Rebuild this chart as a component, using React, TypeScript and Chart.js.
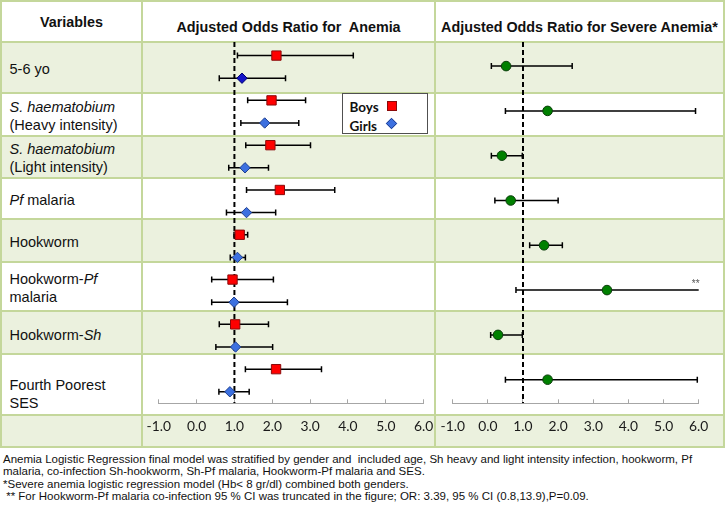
import React, { useEffect, useRef } from 'react';
import { Chart, registerables } from 'chart.js';

Chart.register(...registerables);

// ---------------- data ----------------
const variables = [
  '5-6 yo',
  '_S. haematobium_|(Heavy intensity)',
  '_S. haematobium_|(Light intensity)',
  '_Pf_ malaria',
  'Hookworm',
  'Hookworm-_Pf_|malaria',
  'Hookworm-_Sh_',
  'Fourth Poorest|SES',
];
const boysOR = [2.11, 1.98, 1.95, 2.2, 1.14, 0.95, 1.02, 2.1];
const boysLow = [1.08, 1.35, 1.3, 1.32, 0.99, 0.4, 0.6, 1.29];
const boysHigh = [4.14, 2.88, 3.01, 3.65, 1.35, 2.03, 1.9, 3.3];
const girlsOR = [1.2, 1.8, 1.28, 1.32, 1.08, 0.99, 1.03, 0.88];
const girlsLow = [0.6, 1.17, 0.85, 0.79, 0.89, 0.4, 0.51, 0.59];
const girlsHigh = [2.35, 2.7, 1.9, 2.09, 1.29, 2.4, 2.01, 1.39];
const severeOR = [0.52, 1.7, 0.4, 0.65, 1.6, 3.39, 0.29, 1.7];
const severeLow = [0.1, 0.5, 0.1, 0.2, 1.19, 0.8, 0.08, 0.5];
const severeHigh = [2.4, 5.91, 0.98, 2.0, 2.12, 13.9, 0.98, 5.96];
const xTicks = [-1, 0, 1, 2, 3, 4, 5, 6];
const referenceOR = 1;
const headers = ['Variables', 'Adjusted Odds Ratio for  Anemia', 'Adjusted Odds Ratio for Severe Anemia*'];
const legendLabels = ['Boys', 'Girls'];
const footnotes = [
  'Anemia Logistic Regression final model was stratified by gender and  included age, Sh heavy and light intensity infection, hookworm, Pf',
  'malaria, co-infection Sh-hookworm, Sh-Pf malaria, Hookworm-Pf malaria and SES.',
  '*Severe anemia logistic regression model (Hb< 8 gr/dl) combined both genders.',
  ' ** For Hookworm-Pf malaria co-infection 95 % CI was truncated in the figure; OR: 3.39, 95 % CI (0.8,13.9),P=0.09.',
];

// ---------------- layout / style ----------------
const W = 725;
const H = 507;
const rowEdges = [1, 42, 93, 136, 178, 219, 262, 311, 354, 415, 447];
const colEdges = [1, 142, 435, 724];
const labelShift = [0.8, 0.7, 0.7, 0.5, 0.5, 0.7, 1.5, 9.3];
const BORDER = '#C4D79B';
const SHADE = '#EBF1DE';
const CHART_TOP = 42;
const CHART_H = 405;
const PLOT_BOTTOM = 361.3;
const Y_MIN = -0.558;
const Y_MAX = 7.507;
const BOYS_OFF = -0.255;
const GIRLS_OFF = 0.25;
const SEVERE_OFF = -0.02;

const errorBarPlugin = {
  id: 'errorBars',
  beforeDatasetsDraw(chart: any) {
    const ctx = chart.ctx;
    const xs = chart.scales.x;
    chart.data.datasets.forEach((ds: any, di: number) => {
      if (!ds.low) return;
      const meta = chart.getDatasetMeta(di);
      ctx.save();
      ctx.strokeStyle = '#000';
      ctx.lineWidth = 1.5;
      meta.data.forEach((pt: any, j: number) => {
        const lo = ds.low[j];
        const hi = ds.high[j];
        const trunc = hi > xs.max;
        const x1 = xs.getPixelForValue(Math.max(lo, xs.min));
        const x2 = xs.getPixelForValue(Math.min(hi, xs.max));
        const y = pt.y;
        ctx.beginPath();
        ctx.moveTo(x1, y);
        ctx.lineTo(x2, y);
        ctx.moveTo(x1, y - 3);
        ctx.lineTo(x1, y + 3);
        if (!trunc) {
          ctx.moveTo(x2, y - 3);
          ctx.lineTo(x2, y + 3);
        }
        ctx.stroke();
        if (trunc) {
          ctx.fillStyle = '#555';
          ctx.font = '10px "Liberation Sans", Arial, sans-serif';
          ctx.textAlign = 'center';
          ctx.textBaseline = 'middle';
          ctx.fillText('**', x2 - 3, y - 6);
        }
      });
      ctx.restore();
    });
  },
};

function makeConfig(datasets: any[], padLeft: number, padRight: number): any {
  return {
    type: 'scatter',
    data: {
      datasets: [
        ...datasets,
        {
          type: 'line',
          data: [
            { x: referenceOR, y: Y_MIN },
            { x: referenceOR, y: Y_MAX },
          ],
          borderColor: '#000',
          borderWidth: 2,
          borderDash: [5, 3],
          pointRadius: 0,
          showLine: true,
          order: 5,
        },
      ],
    },
    options: {
      animation: false,
      responsive: false,
      maintainAspectRatio: false,
      layout: { autoPadding: false, padding: { left: padLeft, right: padRight, top: 0, bottom: 0 } },
      plugins: { legend: { display: false }, tooltip: { enabled: false } },
      scales: {
        x: {
          type: 'linear',
          position: 'bottom',
          min: xTicks[0],
          max: xTicks[xTicks.length - 1],
          afterBuildTicks: (s: any) => {
            s.ticks = xTicks.map((v) => ({ value: v }));
          },
          ticks: {
            autoSkip: false,
            maxRotation: 0,
            padding: 18.5,
            color: '#1a1a1a',
            font: { family: 'Lato, "Open Sans", sans-serif', size: 13.8 },
            callback: (v: any) => Number(v).toFixed(1),
          },
          grid: {
            display: true,
            drawOnChartArea: false,
            drawTicks: true,
            tickLength: -4,
            color: '#A6A6A6',
            lineWidth: 1,
          },
          border: { display: true, color: '#A6A6A6', width: 1 },
          afterFit: (s: any) => {
            s.height = CHART_H - PLOT_BOTTOM;
            s.paddingLeft = 0;
            s.paddingRight = 0;
            s.paddingTop = 0;
            s.paddingBottom = 0;
          },
        },
        y: {
          type: 'linear',
          min: Y_MIN,
          max: Y_MAX,
          reverse: true,
          display: false,
          ticks: { display: false },
        },
      },
    },
    plugins: [errorBarPlugin],
  };
}

function rich(s: string) {
  return s.split('|').map((line, li) => (
    <div key={li}>
      {line.split('_').map((seg, si) => (si % 2 ? <i key={si}>{seg}</i> : <span key={si}>{seg}</span>))}
    </div>
  ));
}

export default function App() {
  const leftRef = useRef<HTMLCanvasElement>(null);
  const rightRef = useRef<HTMLCanvasElement>(null);

  useEffect(() => {
    const left = new Chart(
      leftRef.current as HTMLCanvasElement,
      makeConfig(
        [
          {
            label: legendLabels[0],
            data: boysOR.map((v, i) => ({ x: v, y: i + BOYS_OFF })),
            low: boysLow,
            high: boysHigh,
            pointStyle: 'rect',
            pointRadius: 6.6,
            backgroundColor: '#FF0000',
            borderColor: '#8B0A0A',
            borderWidth: 1,
            order: 0,
          },
          {
            label: legendLabels[1],
            data: girlsOR.map((v, i) => ({ x: v, y: i + GIRLS_OFF })),
            low: girlsLow,
            high: girlsHigh,
            pointStyle: 'rectRot',
            pointRadius: 5.2,
            backgroundColor: girlsOR.map((_, i) => (i === 0 ? '#1414C8' : '#3C70E0')),
            borderColor: girlsOR.map((_, i) => (i === 0 ? '#00006E' : '#1F3F8F')),
            borderWidth: 1,
            order: 0,
          },
        ],
        16.7,
        11.3
      )
    );
    const right = new Chart(
      rightRef.current as HTMLCanvasElement,
      makeConfig(
        [
          {
            label: 'Severe anemia',
            data: severeOR.map((v, i) => ({ x: v, y: i + SEVERE_OFF })),
            low: severeLow,
            high: severeHigh,
            pointStyle: 'circle',
            pointRadius: 4.8,
            backgroundColor: '#008000',
            borderColor: '#0B3D0B',
            borderWidth: 1,
            order: 0,
          },
        ],
        17.7,
        26.3
      )
    );
    return () => {
      left.destroy();
      right.destroy();
    };
  }, []);

  const rows = [];
  for (let r = 0; r < rowEdges.length - 1; r++) {
    rows.push(
      <div
        key={'bg' + r}
        style={{
          position: 'absolute',
          left: colEdges[0],
          top: rowEdges[r],
          width: colEdges[3] - colEdges[0],
          height: rowEdges[r + 1] - rowEdges[r],
          background: r % 2 === 1 ? SHADE : '#FFFFFF',
        }}
      />
    );
  }
  const lines = [];
  rowEdges.forEach((e, i) =>
    lines.push(
      <div
        key={'h' + i}
        style={{ position: 'absolute', left: 0, top: e - 1, width: colEdges[3] + 1, height: 2, background: BORDER }}
      />
    )
  );
  colEdges.forEach((e, i) =>
    lines.push(
      <div
        key={'v' + i}
        style={{
          position: 'absolute',
          left: e - 1,
          top: 0,
          width: 2,
          height: rowEdges[rowEdges.length - 1] + 1,
          background: BORDER,
        }}
      />
    )
  );

  const headerY = [22.3, 26.7, 26.7];

  return (
    <div
      style={{
        position: 'absolute',
        left: 0,
        top: 0,
        width: W,
        height: H,
        overflow: 'hidden',
        background: '#fff',
        fontFamily: '"Liberation Sans", Arial, sans-serif',
        color: '#111',
      }}
    >
      {rows}
      {lines}
      {headers.map((h, i) => (
        <div
          key={'hd' + i}
          style={{
            position: 'absolute',
            left: colEdges[i],
            width: colEdges[i + 1] - colEdges[i],
            top: headerY[i] - 9,
            height: 18,
            lineHeight: '18px',
            textAlign: 'center',
            fontWeight: 'bold',
            fontSize: 14.35,
            whiteSpace: 'pre',
          }}
        >
          {h}
        </div>
      ))}
      {variables.map((v, i) => (
        <div
          key={'lab' + i}
          style={{
            position: 'absolute',
            left: 9.5,
            top: rowEdges[i + 1],
            height: rowEdges[i + 2] - rowEdges[i + 1],
            width: colEdges[1] - 12,
            display: 'flex',
            alignItems: 'center',
            fontSize: 14.5,
            lineHeight: '18px',
            whiteSpace: 'nowrap',
          }}
        >
          <div style={{ transform: `translateY(${labelShift[i]}px)` }}>{rich(v)}</div>
        </div>
      ))}
      <canvas
        ref={leftRef}
        width={colEdges[2] - colEdges[1]}
        height={CHART_H}
        style={{ position: 'absolute', left: colEdges[1], top: CHART_TOP, width: colEdges[2] - colEdges[1], height: CHART_H }}
      />
      <canvas
        ref={rightRef}
        width={W - colEdges[2]}
        height={CHART_H}
        style={{ position: 'absolute', left: colEdges[2], top: CHART_TOP, width: W - colEdges[2], height: CHART_H }}
      />
      <div
        style={{
          position: 'absolute',
          left: 341.5,
          top: 93,
          width: 86,
          height: 41,
          boxSizing: 'border-box',
          border: '1px solid #505050',
          background: '#fff',
          fontFamily: 'Lato, "Open Sans", sans-serif',
          fontWeight: 'bold',
          fontSize: 13.5,
        }}
      >
        <div style={{ position: 'absolute', left: 7, top: 5, lineHeight: '16px' }}>{legendLabels[0]}</div>
        <div
          style={{
            position: 'absolute',
            left: 44.5,
            top: 7,
            width: 8,
            height: 8,
            background: '#FF0000',
            border: '1px solid #8B0A0A',
          }}
        />
        <div style={{ position: 'absolute', left: 7, top: 23.5, lineHeight: '16px' }}>{legendLabels[1]}</div>
        <div
          style={{
            position: 'absolute',
            left: 44.5,
            top: 25,
            width: 7,
            height: 7,
            background: '#3C70E0',
            border: '1px solid #1F3F8F',
            transform: 'rotate(45deg) scale(0.9, 0.9)',
          }}
        />
      </div>
      {footnotes.map((f, i) => (
        <div
          key={'fn' + i}
          style={{
            position: 'absolute',
            left: 3,
            top: 459 + i * 12.6 - 6.5,
            lineHeight: '13px',
            fontSize: 11.5,
            whiteSpace: 'pre',
            color: '#111',
          }}
        >
          {f}
        </div>
      ))}
    </div>
  );
}
